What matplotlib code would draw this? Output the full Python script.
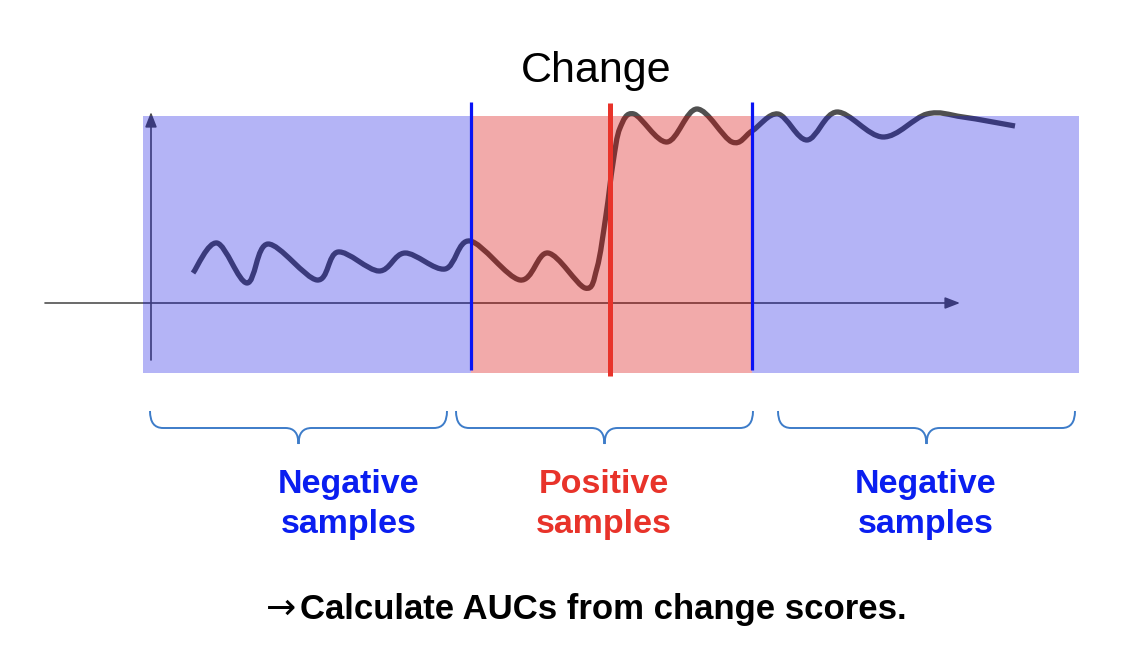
import matplotlib
matplotlib.use("Agg")
import matplotlib.pyplot as plt
from matplotlib.path import Path
from matplotlib.patches import PathPatch, Rectangle

plt.rcParams['font.family'] = ['Liberation Sans', 'DejaVu Sans']

# canvas is in pixels, y grows downwards
W, H = 1142, 668

# score curve (x, y in pixels)
curve_x = [193, 217, 247, 268, 317, 338, 379, 405, 445, 470, 520, 548, 585,
           597, 606, 613, 620, 634, 667, 697, 732, 752, 778, 807, 837, 883,
           927, 963, 1015]
curve_y = [273, 243, 283, 244, 280, 252, 271, 253, 269, 241, 280, 253, 288,
           268, 215, 163, 128, 114, 142, 109, 142, 131, 114, 140, 112, 137,
           114, 117, 126]

# shaded segments: negative / positive / negative
seg_edges = [143, 471, 752, 1079]
seg_kind = ["neg", "pos", "neg"]
band_top, band_bottom = 116, 373
change_x = 610

# braces under each segment, labels below them
brace_spans = [(150, 447), (456, 753), (778, 1075)]
sample_labels = ["Negative\nsamples", "Positive\nsamples", "Negative\nsamples"]
label_x = [349, 604, 926]
label_colors = ["#0a1ef0", "#e8332a", "#0a1ef0"]

title_text = "Change"
footer_arrow = "\u2192"
footer_text = "Calculate AUCs from change scores."


def smooth_path(xs, ys):
    # catmull-rom through the read points, drawn as cubic beziers
    pts = list(zip(xs, ys))
    verts = [pts[0]]
    codes = [Path.MOVETO]
    n = len(pts)
    for i in range(n - 1):
        p0 = pts[max(i - 1, 0)]
        p1 = pts[i]
        p2 = pts[i + 1]
        p3 = pts[min(i + 2, n - 1)]
        c1 = (p1[0] + (p2[0] - p0[0]) / 6, p1[1] + (p2[1] - p0[1]) / 6)
        c2 = (p2[0] - (p3[0] - p1[0]) / 6, p2[1] - (p3[1] - p1[1]) / 6)
        verts += [c1, c2, p2]
        codes += [Path.CURVE4] * 3
    return Path(verts, codes)


def brace_path(x0, x1, top=411, mid=428, tip=444, r=13):
    xc = (x0 + x1) / 2
    verts = [(x0, top), (x0, mid), (x0 + r, mid),
             (xc - r, mid),
             (xc, mid), (xc, tip),
             (xc, mid), (xc + r, mid),
             (x1 - r, mid),
             (x1, mid), (x1, top)]
    codes = [Path.MOVETO, Path.CURVE3, Path.CURVE3,
             Path.LINETO,
             Path.CURVE3, Path.CURVE3,
             Path.CURVE3, Path.CURVE3,
             Path.LINETO,
             Path.CURVE3, Path.CURVE3]
    return Path(verts, codes)


fig = plt.figure(figsize=(W / 100, H / 100), dpi=100)
ax = fig.add_axes([0, 0, 1, 1])
ax.set_xlim(0, W)
ax.set_ylim(H, 0)
ax.axis('off')

ink = "#505050"

# axes arrows
ax.annotate("", xy=(960, 303), xytext=(45, 303),
            arrowprops=dict(arrowstyle="-|>,head_length=0.9,head_width=0.35",
                            color=ink, lw=1.2, shrinkA=0, shrinkB=0),
            zorder=1)
ax.annotate("", xy=(151, 112), xytext=(151, 360),
            arrowprops=dict(arrowstyle="-|>,head_length=0.9,head_width=0.35",
                            color=ink, lw=1.2, shrinkA=0, shrinkB=0),
            zorder=1)

# the score curve
ax.add_patch(PathPatch(smooth_path(curve_x, curve_y), facecolor="none",
                       edgecolor=ink, lw=3.8, capstyle="butt",
                       joinstyle="round", zorder=2))

# translucent segment bands on top
for i, kind in enumerate(seg_kind):
    x0, x1 = seg_edges[i], seg_edges[i + 1]
    if kind == "neg":
        fc, a = (9 / 255, 9 / 255, 228 / 255), 0.3
    else:
        fc, a = (216 / 255, 0, 0), 0.333
    ax.add_patch(Rectangle((x0, band_top), x1 - x0, band_bottom - band_top,
                           facecolor=fc, alpha=a, edgecolor="none", zorder=3))

# boundary lines
for x in seg_edges[1:3]:
    ax.plot([x, x], [102, 370], color="#0a14f5", lw=2.3, zorder=4,
            solid_capstyle="butt")
ax.plot([change_x, change_x], [103, 376], color="#e8332a", lw=3.6, zorder=4,
        solid_capstyle="butt")

ax.text(596, 82, title_text, ha="center", va="baseline", fontsize=31,
        color="black")

# braces and labels
for (x0, x1), lx, lab, col in zip(brace_spans, label_x, sample_labels,
                                  label_colors):
    ax.add_patch(PathPatch(brace_path(x0, x1), facecolor="none",
                           edgecolor="#3d7cc9", lw=1.4, zorder=2))
    for k, line in enumerate(lab.split("\n")):
        ax.text(lx, 493 + 40 * k, line, ha="center", va="baseline",
                fontsize=24.5, fontweight="bold", color=col)

ax.text(266, 619, footer_arrow, ha="left", va="baseline", fontsize=26,
        family="DejaVu Sans", color="black")
ax.text(300, 619, footer_text, ha="left", va="baseline", fontsize=25,
        fontweight="bold", color="black")

fig.savefig("out.png", dpi=100, facecolor="white")
